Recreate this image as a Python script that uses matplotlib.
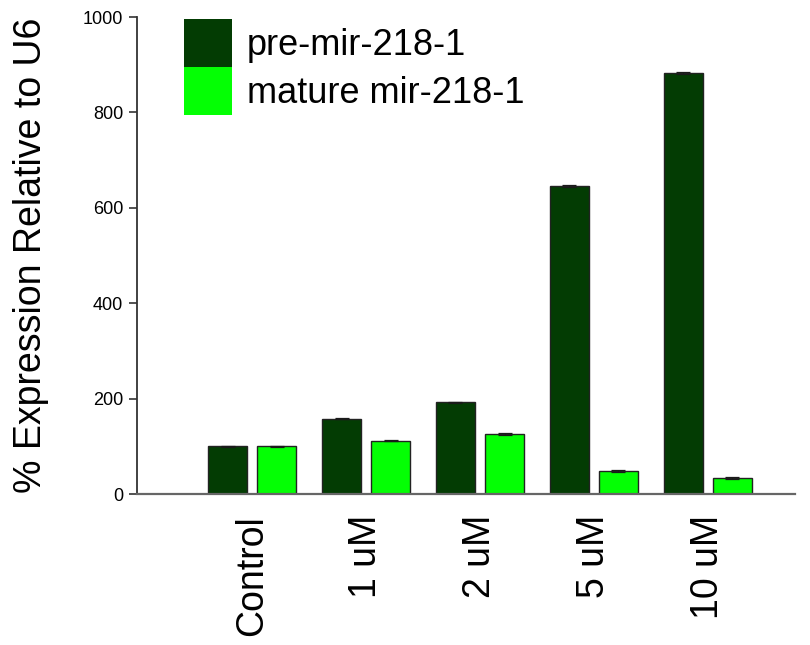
import matplotlib

matplotlib.use("Agg", force=True)
import matplotlib.pyplot as plt
import numpy as np
from matplotlib.patches import Patch

plt.rcParams["font.family"] = ["Liberation Sans", "DejaVu Sans"]

conditions = ["Control", "1 uM", "2 uM", "5 uM", "10 uM"]
pre_mir = [100, 158, 192, 645, 882]
mature_mir = [100, 112, 126, 48, 34]
pre_err = [1.5, 1.5, 1.5, 2, 2]
mature_err = [1.5, 1.5, 1.5, 1.5, 1.5]
series_labels = ["pre-mir-218-1", "mature mir-218-1"]

DARK = "#033c03"
BRIGHT = "#04ff04"

fig = plt.figure(figsize=(8.1, 6.45), dpi=100)
ax = fig.add_axes([0.169, 0.234, 0.812, 0.7396])

x = np.arange(len(conditions))
width = 0.342
offset = 0.215
err_kw = dict(ecolor="#1a1a1a", elinewidth=0.8, capsize=5, capthick=0.9)
ax.bar(x - offset, pre_mir, width, color=DARK, edgecolor="#222222", linewidth=1.0,
       yerr=pre_err, error_kw=err_kw)
ax.bar(x + offset, mature_mir, width, color=BRIGHT, edgecolor="#222222", linewidth=1.0,
       yerr=mature_err, error_kw=err_kw)

ax.set_xlim(-1.01, 4.76)
ax.set_ylim(0, 1000)
ax.set_yticks([0, 200, 400, 600, 800, 1000])
ax.tick_params(axis="y", labelsize=13, length=6, width=1.2, color="#333333", pad=4)
ax.set_xticks(x)
ax.set_xticklabels(conditions, rotation=90, fontsize=27)
ax.tick_params(axis="x", length=0, pad=15)

for side in ("top", "right"):
    ax.spines[side].set_visible(False)
ax.spines["left"].set_color("#333333")
ax.spines["left"].set_linewidth(1.3)
ax.spines["bottom"].set_color("#666666")
ax.spines["bottom"].set_linewidth(1.6)

ax.set_ylabel("% Expression Relative to U6", fontsize=27, labelpad=24)

handles = [Patch(facecolor=DARK, edgecolor="none"), Patch(facecolor=BRIGHT, edgecolor="none")]
ax.legend(handles, series_labels, loc="upper left", bbox_to_anchor=(0.227, 0.9705),
          bbox_transform=fig.transFigure, frameon=False, fontsize=26,
          handlelength=1.33, handleheight=1.67, labelspacing=0.0,
          handletextpad=0.42, borderpad=0, borderaxespad=0)

fig.savefig("out.png", dpi=100)
